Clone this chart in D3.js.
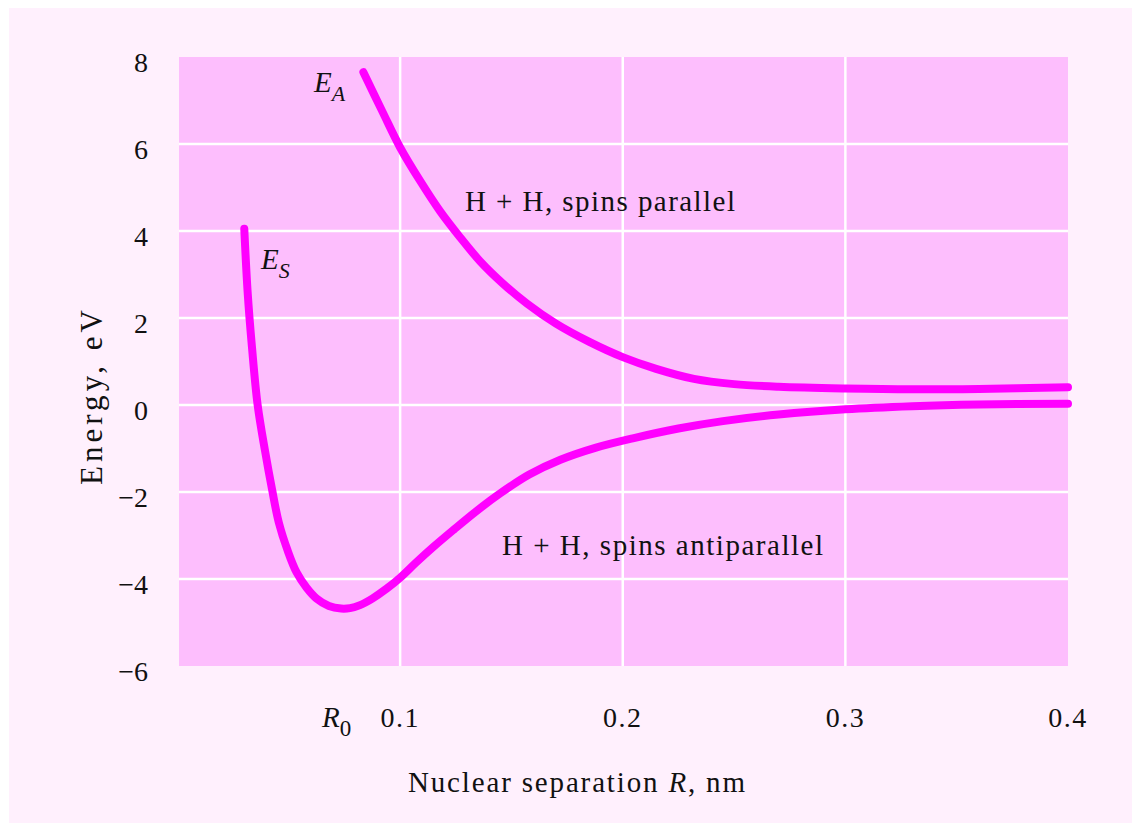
<!DOCTYPE html>
<html><head><meta charset="utf-8">
<script src="https://cdn.jsdelivr.net/npm/d3@7"></script>
<style>
html,body{margin:0;padding:0;background:#ffffff;}
text{font-family:"Liberation Serif","DejaVu Serif",serif;fill:#111;}
</style></head>
<body>
<svg id="chart" width="1132" height="823"></svg>
<script>
// Data (R in nm, E in eV)
const symR = [0.030,0.0315,0.0335,0.036,0.0393,0.0425,0.0455,0.0495,0.0535,0.058,0.0625,0.068,0.0735,0.0775,0.082,0.0875,0.094,0.100,0.107,0.115,0.124,0.134,0.145,0.158,0.172,0.188,0.205,0.225,0.245,0.27,0.30,0.33,0.36,0.40];
const symE = [4.05,2.6,1.3,0.0,-1.05,-1.95,-2.7,-3.35,-3.85,-4.2,-4.45,-4.62,-4.68,-4.67,-4.6,-4.45,-4.22,-3.97,-3.63,-3.26,-2.87,-2.45,-2.03,-1.6,-1.26,-0.98,-0.76,-0.54,-0.37,-0.22,-0.1,-0.03,0.01,0.03];
const antiR = [0.0835,0.092,0.100,0.109,0.118,0.127,0.136,0.146,0.157,0.170,0.185,0.200,0.215,0.232,0.250,0.27,0.30,0.33,0.36,0.40];
const antiE = [7.65,6.75,5.92,5.15,4.45,3.85,3.3,2.8,2.33,1.87,1.45,1.1,0.83,0.6,0.48,0.42,0.38,0.36,0.37,0.41];
const xTicks = [0.1,0.2,0.3,0.4];
const yTicks = [8,6,4,2,0,-2,-4,-6];
const R0 = 0.0715;

const svg = d3.select("#chart");
svg.append("rect").attr("x",9).attr("y",8).attr("width",1123).attr("height",815).attr("fill","#fff0fd");

const pL=179, pR=1068, pT=57, pB=666;
const x = d3.scaleLinear().domain([0,0.4]).range([177.5,1068]);
const y = d3.scaleLinear().domain([-6,8]).range([pB,pT]);

svg.append("rect").attr("x",pL).attr("y",pT).attr("width",pR-pL).attr("height",pB-pT).attr("fill","#fdbefd");

// grid
const g = svg.append("g");
g.selectAll("line.h").data(yTicks.filter(d=>d>-6&&d<8)).join("line")
  .attr("x1",pL).attr("x2",pR).attr("y1",d=>y(d)).attr("y2",d=>y(d))
  .attr("stroke","#ffffff").attr("stroke-width",2.5);
g.selectAll("line.v").data(xTicks.filter(d=>d<0.4)).join("line")
  .attr("y1",pT).attr("y2",pB).attr("x1",d=>x(d)).attr("x2",d=>x(d))
  .attr("stroke","#ffffff").attr("stroke-width",2.5);

// tick labels
const fmtY = d => d<0 ? "\u2212"+Math.abs(d) : String(d);
svg.selectAll("text.yt").data(yTicks).join("text")
  .attr("x",148).attr("y",d=>y(d)+15).attr("text-anchor","end")
  .attr("font-size",28).text(fmtY);
svg.selectAll("text.xt").data(xTicks).join("text")
  .attr("x",d=>x(d)).attr("y",727).attr("text-anchor","middle")
  .attr("font-size",28).attr("letter-spacing",1.5).text(d=>d.toFixed(1));
const r0 = svg.append("text").attr("x",x(R0)).attr("y",727).attr("text-anchor","middle").attr("font-size",29);
r0.append("tspan").attr("font-style","italic").text("R");
r0.append("tspan").attr("font-size",23).attr("dy",9).text("0");

// axis titles
svg.append("text").attr("transform","translate(102,485) rotate(-90)")
  .attr("font-size",31).attr("textLength",175).attr("lengthAdjust","spacing").text("Energy, eV");
const xt = svg.append("text").attr("x",408).attr("y",792).attr("font-size",29)
  .attr("textLength",337).attr("lengthAdjust","spacing");
xt.append("tspan").text("Nuclear separation ");
xt.append("tspan").attr("font-style","italic").text("R");
xt.append("tspan").text(", nm");

// curves
const line = d3.line().x(d=>x(d[0])).y(d=>y(d[1])).curve(d3.curveCatmullRom.alpha(0.5));
svg.append("path").datum(symR.map((r,i)=>[r,symE[i]])).attr("d",line)
  .attr("fill","none").attr("stroke","#ff00ff").attr("stroke-width",8).attr("stroke-linecap","round");
svg.append("path").datum(antiR.map((r,i)=>[r,antiE[i]])).attr("d",line)
  .attr("fill","none").attr("stroke","#ff00ff").attr("stroke-width",8).attr("stroke-linecap","round");

// labels
function sublabel(tx,ty,main,sub){
  const t = svg.append("text").attr("x",tx).attr("y",ty).attr("font-size",29);
  t.append("tspan").attr("font-style","italic").text(main);
  t.append("tspan").attr("font-style","italic").attr("font-size",22).attr("dy",9).text(sub);
}
sublabel(314,92,"E","A");
sublabel(261,269,"E","S");
svg.append("text").attr("x",465).attr("y",211).attr("font-size",29)
  .attr("textLength",270).attr("lengthAdjust","spacing").text("H + H, spins parallel");
svg.append("text").attr("x",502).attr("y",555).attr("font-size",29)
  .attr("textLength",321).attr("lengthAdjust","spacing").text("H + H, spins antiparallel");
</script>
</body></html>
